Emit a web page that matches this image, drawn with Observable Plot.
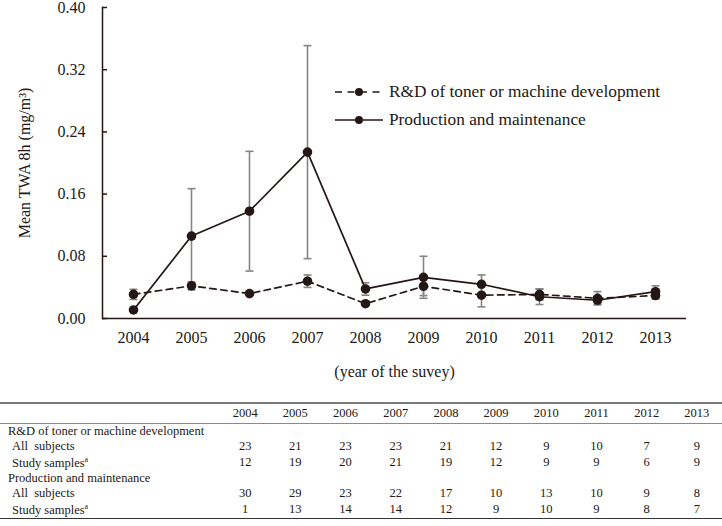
<!DOCTYPE html>
<html><head><meta charset="utf-8">
<script src="https://cdn.jsdelivr.net/npm/d3@7"></script>
<script src="https://cdn.jsdelivr.net/npm/@observablehq/plot@0.6"></script>
<style>
body{margin:0;background:#fff;font-family:"Liberation Serif","Times New Roman",serif;color:#231815;}
#wrap{position:relative;width:722px;height:390px;}
#legend{position:absolute;left:335px;top:78px;font-size:17.3px;line-height:28px;}
.lg{display:flex;align-items:center;height:28px;white-space:nowrap;}
.lg svg{margin-right:6px;}
table{border-collapse:collapse;width:722px;font-size:12.5px;margin-top:12px;table-layout:fixed;}
td,th{padding:0;height:14.6px;line-height:14.6px;font-weight:normal;}
th{text-align:center;}
td.num{text-align:center;}
td.grp{padding-left:8px;}
td.sub{padding-left:12px;}
thead tr{border-top:2px solid #7a7a7a;border-bottom:1px solid #8a8a8a;}
thead th{height:19px;}
tbody tr:last-child{border-bottom:1.5px solid #333;}
</style></head><body>
<div id="wrap"><div id="chart"></div><div id="legend"></div></div>
<table id="tbl"></table>
<script>
// ---- data ----
const years = [2004, 2005, 2006, 2007, 2008, 2009, 2010, 2011, 2012, 2013];
const seriesNames = ["R&D of toner or machine development", "Production and maintenance"];
const rdMean   = [0.031, 0.042, 0.032, 0.048, 0.019, 0.0415, 0.030, 0.031, 0.026, 0.0295];
const rdErr    = [0.0065, 0.005, 0.002, 0.008, 0.002, 0.012, 0.015, 0.007, 0.0086, 0.0045];
const prodMean = [0.011, 0.106, 0.138, 0.214, 0.038, 0.053, 0.044, 0.028, 0.0235, 0.0345];
const prodErr  = [0, 0.061, 0.077, 0.137, 0.008, 0.027, 0.012, 0.010, 0.005, 0.0075];
const yTicks = [0, 0.08, 0.16, 0.24, 0.32, 0.40];
const rdAll    = [23, 21, 23, 23, 21, 12, 9, 10, 7, 9];
const rdStudy  = [12, 19, 20, 21, 19, 12, 9, 9, 6, 9];
const prodAll  = [30, 29, 23, 22, 17, 10, 13, 10, 9, 8];
const prodStudy= [1, 13, 14, 14, 12, 9, 10, 9, 8, 7];

const ink = "#231815";
const grey = "#858585";

const rdRows = years.map((y, i) => ({year: String(y), mean: rdMean[i], lo: rdMean[i] - rdErr[i], hi: rdMean[i] + rdErr[i], err: rdErr[i]}));
const prodRows = years.map((y, i) => ({year: String(y), mean: prodMean[i], lo: prodMean[i] - prodErr[i], hi: prodMean[i] + prodErr[i], err: prodErr[i]}));
const errRows = [...rdRows, ...prodRows].filter(d => d.err > 0);

// horizontal cap symbol (half-width = r)
const capSymbol = {draw(ctx, size) { const w = Math.sqrt(size / Math.PI); ctx.moveTo(-w, 0); ctx.lineTo(w, 0); }};

const plot = Plot.plot({
  width: 722, height: 390,
  marginLeft: 102, marginRight: 36, marginTop: 7, marginBottom: 72,
  style: {fontFamily: "Liberation Serif, Times New Roman, serif", fontSize: "16px", color: ink, background: "white", overflow: "visible"},
  x: {type: "point", domain: years.map(String), padding: 0.5},
  y: {domain: [0, 0.4]},
  marks: [
    Plot.axisX({tickSize: 0, tickPadding: 13, fontSize: 16, label: "(year of the suvey)", labelAnchor: "center", labelOffset: 58, labelArrow: false}),
    Plot.axisY({ticks: yTicks, tickFormat: d => d.toFixed(2), tickSize: -5, tickPadding: 22, fontSize: 16, stroke: ink, strokeWidth: 1.5,
      label: "Mean TWA 8h (mg/m³)", labelAnchor: "center", labelOffset: 84, labelArrow: false}),
    Plot.frame({anchor: "left", stroke: ink, strokeWidth: 1.5}),
    Plot.ruleY([0], {stroke: ink, strokeWidth: 1.5}),
    Plot.ruleX(errRows, {x: "year", y1: "lo", y2: "hi", stroke: grey, strokeWidth: 1.6}),
    Plot.dot(errRows, {x: "year", y: "lo", r: 4, symbol: capSymbol, fill: "none", stroke: grey, strokeWidth: 1.6}),
    Plot.dot(errRows, {x: "year", y: "hi", r: 4, symbol: capSymbol, fill: "none", stroke: grey, strokeWidth: 1.6}),
    Plot.line(rdRows, {x: "year", y: "mean", stroke: ink, strokeWidth: 1.7, strokeDasharray: "6.5,4.5"}),
    Plot.line(prodRows, {x: "year", y: "mean", stroke: ink, strokeWidth: 1.7}),
    Plot.dot([...rdRows, ...prodRows], {x: "year", y: "mean", r: 4.8, fill: ink, stroke: "none"})
  ]
});
document.getElementById("chart").appendChild(plot);

// legend
const legend = d3.select("#legend");
seriesNames.forEach((name, i) => {
  const row = legend.append("div").attr("class", "lg");
  const s = row.append("svg").attr("width", 48).attr("height", 12);
  s.append("line").attr("x1", 0).attr("x2", 48).attr("y1", 6).attr("y2", 6)
    .attr("stroke", ink).attr("stroke-width", 1.7)
    .attr("stroke-dasharray", i === 0 ? "7,5.5" : null);
  s.append("circle").attr("cx", 24).attr("cy", 6).attr("r", 4).attr("fill", ink);
  row.append("span").text(name);
});

// table
const tbl = d3.select("#tbl");
const cg = tbl.append("colgroup");
cg.append("col").style("width", "220px");
years.forEach(() => cg.append("col").style("width", "50.2px"));
const hr = tbl.append("thead").append("tr");
hr.append("th");
years.forEach(y => hr.append("th").text(y));
const tb = tbl.append("tbody");
const groups = [
  {name: seriesNames[0], all: rdAll, study: rdStudy},
  {name: seriesNames[1], all: prodAll, study: prodStudy}
];
groups.forEach(g => {
  tb.append("tr").append("td").attr("class", "grp").attr("colspan", 11).text(g.name);
  const r1 = tb.append("tr");
  r1.append("td").attr("class", "sub").html("All&nbsp; subjects");
  g.all.forEach(v => r1.append("td").attr("class", "num").text(v));
  const r2 = tb.append("tr");
  const c = r2.append("td").attr("class", "sub");
  c.append("span").text("Study samples");
  c.append("sup").style("font-size", "8px").text("a");
  g.study.forEach(v => r2.append("td").attr("class", "num").text(v));
});
</script>
</body></html>
